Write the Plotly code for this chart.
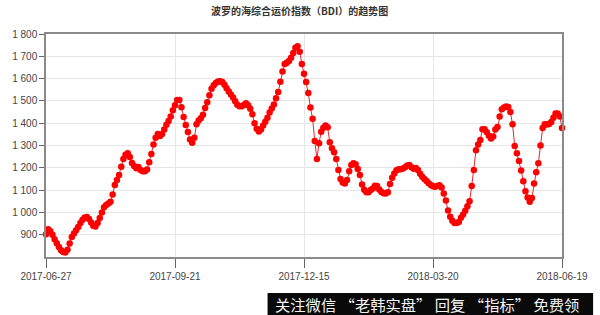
import plotly.graph_objects as go

title_text = "波罗的海综合运价指数（BDI）的趋势图"
watermark_text = "关注微信 “老韩实盘” 回复 “指标” 免费领"

bdi_values = [
    902, 925, 915, 900, 880, 862, 845, 830, 822, 820,
    832, 860, 890, 905, 920, 935, 952, 967, 977, 979,
    970, 955, 940, 937, 952, 975, 1000, 1023, 1033, 1040,
    1048, 1080, 1123, 1145, 1168, 1205, 1240, 1258, 1265, 1248,
    1222, 1208, 1198, 1204, 1190, 1184, 1184, 1192, 1225, 1262,
    1305, 1335, 1352, 1343, 1352, 1372, 1393, 1410, 1430, 1458,
    1480, 1504, 1504, 1472, 1428, 1392, 1360, 1327, 1312, 1335,
    1395, 1412, 1422, 1438, 1468, 1494, 1525, 1554, 1570, 1580,
    1587, 1588, 1585, 1572, 1557, 1542, 1529, 1515, 1498, 1483,
    1476, 1476, 1482, 1489, 1481, 1465, 1440, 1400, 1375, 1363,
    1372, 1390, 1406, 1425, 1448, 1466, 1484, 1512, 1540, 1586,
    1632, 1665, 1671, 1679, 1693, 1715, 1738, 1745, 1720, 1665,
    1622, 1585, 1535, 1470, 1420, 1320, 1240, 1310, 1362, 1380,
    1390, 1382, 1315, 1288, 1270, 1240, 1190, 1150, 1134, 1130,
    1145, 1185, 1212, 1220, 1216, 1195, 1168, 1125, 1102, 1090,
    1090, 1100, 1107, 1120, 1118, 1103, 1092, 1086, 1085, 1090,
    1127, 1155, 1175, 1189, 1194, 1193, 1197, 1203, 1210, 1212,
    1203, 1196, 1199, 1190, 1173, 1160, 1150, 1141, 1131, 1123,
    1117, 1115, 1118, 1122, 1112, 1085, 1053, 1008, 980, 962,
    953, 952, 957, 976, 991, 1007, 1028, 1050, 1118, 1190,
    1279, 1304, 1325, 1373, 1373, 1359, 1344, 1331, 1340, 1372,
    1383, 1430, 1462, 1470, 1475, 1473, 1450, 1395, 1298, 1265,
    1230, 1188, 1140, 1095, 1067, 1048, 1065, 1130, 1180, 1220,
    1300, 1378, 1395, 1394, 1396, 1405, 1425, 1443, 1443, 1430,
    1378,
]

x_tick_positions = [0, 60, 120, 180, 240]
x_tick_labels = ["2017-06-27", "2017-09-21", "2017-12-15", "2018-03-20", "2018-06-19"]
y_tick_values = [900, 1000, 1100, 1200, 1300, 1400, 1500, 1600, 1700, 1800]

x_index = list(range(len(bdi_values)))

W, H = 600, 315
L, R, T, B = 42, 573, 34, 257


def px_x(p):
    return (p - L) / (R - L)


def px_y(p):
    return (B - p) / (B - T)


fig = go.Figure()
fig.add_trace(go.Scatter(
    x=x_index, y=bdi_values, mode="lines+markers",
    line=dict(color="#e8262b", width=1),
    marker=dict(color="#ff0000", size=6.5, line=dict(width=0)),
    cliponaxis=False, showlegend=False, hoverinfo="y",
))

axis_line = "#8a8a8a"
fig.update_xaxes(
    range=[0, 240], tickvals=x_tick_positions, ticktext=x_tick_labels,
    showgrid=True, gridcolor="#e6e6e6", gridwidth=1,
    showline=True, linecolor=axis_line, linewidth=1.5, mirror=True,
    ticks="outside", ticklen=9, tickcolor="#666", tickwidth=1,
    tickfont=dict(family="Arial, Liberation Sans", size=10, color="#444"),
    zeroline=False,
)
fig.update_yaxes(
    range=[800, 1800], tickvals=y_tick_values, tickformat=",d",
    showgrid=True, gridcolor="#e6e6e6", gridwidth=1,
    showline=True, linecolor=axis_line, linewidth=1.5, mirror=True,
    ticks="outside", ticklen=5, tickcolor="#666", tickwidth=1,
    tickfont=dict(family="Arial, Liberation Sans", size=10, color="#444"),
    zeroline=False,
)

fig.add_shape(type="rect", xref="paper", yref="paper",
              x0=px_x(270), x1=px_x(605), y0=px_y(320), y1=px_y(293),
              fillcolor="#0a0a0a", line=dict(width=0), layer="above")
fig.add_annotation(
    text=watermark_text, xref="paper", yref="paper",
    x=px_x(434), y=px_y(304), xanchor="center", yanchor="middle",
    showarrow=False,
    font=dict(family="Noto Sans CJK SC", size=15.3, color="#f2f2f2"),
)
fig.add_annotation(
    text="<b>" + title_text + "</b>", xref="paper", yref="paper",
    x=px_x(303), y=px_y(11), xanchor="center", yanchor="middle",
    showarrow=False,
    font=dict(family="Noto Sans CJK SC", size=10, color="#333"),
)

fig.update_layout(
    width=W, height=H,
    margin=dict(l=L, r=W - R, t=T, b=H - B),
    paper_bgcolor="white", plot_bgcolor="white",
    separators=". ",
)

fig.write_html("out.html")
